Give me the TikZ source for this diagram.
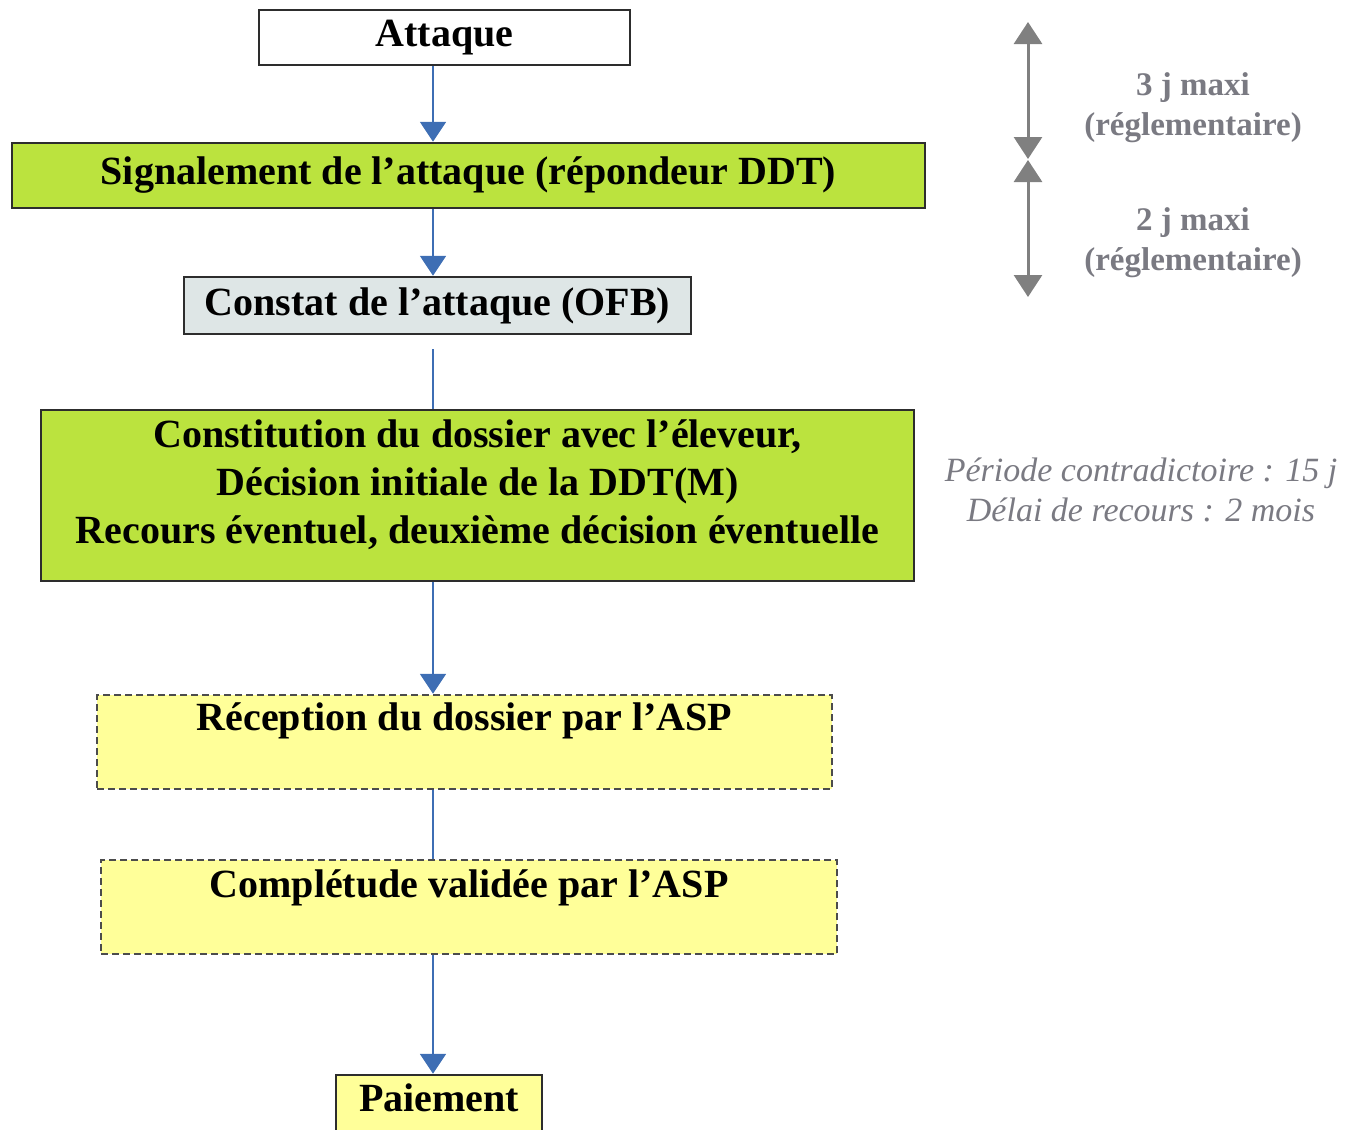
\documentclass[tikz,border=0pt]{standalone}
\usepackage{fontspec}
\setmainfont{Liberation Serif}
\usetikzlibrary{arrows.meta}

\definecolor{boxgreen}{RGB}{187,227,62}
\definecolor{boxgrey}{RGB}{222,230,230}
\definecolor{boxyellow}{RGB}{255,255,153}
\definecolor{flowblue}{RGB}{62,110,180}
\definecolor{delaygrey}{RGB}{128,128,128}
\definecolor{notegrey}{RGB}{122,122,130}
\definecolor{framegrey}{RGB}{45,45,45}

\tikzset{
	etape/.style={draw=framegrey, line width=2.5pt, inner sep=0pt, font=\fontsize{40}{48}\selectfont\bfseries},
	etapeasp/.style={etape, draw=framegrey!85, dash pattern=on 7pt off 4pt, fill=boxyellow},
	flux/.style={draw=flowblue, line width=2pt},
	delai/.style={draw=delaygrey, line width=3pt, {Triangle[length=22pt,width=28pt]}-{Triangle[length=22pt,width=28pt]}},
	note/.style={text=notegrey, align=center},
}

\begin{document}
\begin{tikzpicture}[x=1pt, y=1pt, node distance=100pt, >={Triangle[length=20pt,width=26pt]}]
	\useasboundingbox (0,0) rectangle (1355,-1130);

	\node[etape, minimum width=371pt, minimum height=55pt] (attaque) at (444.5,-37.5) {Attaque};
	\node[etape, fill=boxgreen, minimum width=913pt, minimum height=65pt, below of=attaque, xshift=24pt, yshift=-38pt]%
		(signalement) {Signalement de l’attaque (répondeur DDT)};
	\node[etape, fill=boxgrey, minimum width=507pt, minimum height=57pt, below of=signalement, xshift=-31pt, yshift=-30pt]%
		(constat) {Constat de l’attaque (OFB)};
	\node[etape, fill=boxgreen, align=center, minimum width=873pt, text height=133pt, text depth=38pt, below of=constat, xshift=40pt, yshift=-90pt]%
		(dossier) {Constitution du dossier avec l’éleveur,\\Décision initiale de la DDT(M)\\Recours éventuel, deuxième décision éventuelle};

	\node[etapeasp, minimum width=735pt, text height=35pt, text depth=59pt, below of=dossier, xshift=-13pt, yshift=-146.5pt]%
		(reception) {Réception du dossier par l’ASP};
	\node[etapeasp, minimum width=736pt, text height=37pt, text depth=57pt, below of=reception, xshift=4.5pt, yshift=-65pt]%
		(completude) {Complétude validée par l’ASP};
	\node[etape, fill=boxyellow, minimum width=206pt, text height=36pt, text depth=26pt, below of=completude, xshift=-30pt, yshift=-99pt]%
		(paiement) {Paiement};

	\coordinate (axe) at (433,0);
	\draw[flux, ->] (attaque.south -| axe) -- (signalement.north -| axe);
	\draw[flux, ->] (signalement.south -| axe) -- (constat.north -| axe);
	\draw[flux, shorten <=14pt] (constat.south -| axe) -- (dossier.north -| axe);
	\draw[flux, ->] (dossier.south -| axe) -- (reception.north -| axe);
	\draw[flux] (reception.south -| axe) -- (completude.north -| axe);
	\draw[flux, ->] (completude.south -| axe) -- (paiement.north -| axe);

	% delais reglementaires
	\coordinate (d0) at (1028,-22);
	\coordinate (d1) at (1028,-159);
	\coordinate (d2) at (1028,-160);
	\coordinate (d3) at (1028,-297);
	\draw[delai] (d0) -- (d1);
	\draw[delai] (d2) -- (d3);
	\node[note, font=\fontsize{33}{40}\selectfont\bfseries] (delai3j) at (1193,-108) {3 j maxi\\(réglementaire)};
	\node[note, font=\fontsize{33}{40}\selectfont\bfseries] (delai2j) at (1193,-243) {2 j maxi\\(réglementaire)};
	\node[note, font=\fontsize{34}{40}\selectfont\itshape] (recours) at (1141,-490) {Période contradictoire : 15 j\\Délai de recours : 2 mois};

\end{tikzpicture}
\end{document}
